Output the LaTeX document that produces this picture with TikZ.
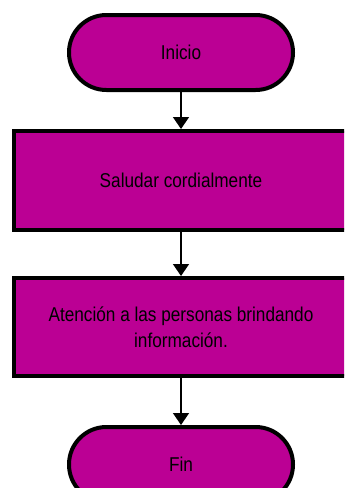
\documentclass[tikz,border=0pt]{standalone}
\usepackage{fontspec}
\setmainfont{Liberation Sans}[FakeStretch=0.86]
\usetikzlibrary{positioning,arrows.meta}
\definecolor{flujo}{RGB}{187,0,148}
\begin{document}
\begin{tikzpicture}[font=\fontsize{10}{13}\selectfont, >={Triangle[width=8pt,length=6pt]},
  blk/.style={draw=black, fill=flujo, line width=2pt, align=center, inner sep=0pt},
  term/.style={blk, minimum width=112pt, minimum height=37.5pt, rounded corners=18.7pt},
  proc/.style={blk, minimum width=167pt},
  flecha/.style={->, line width=0.75pt}
]
  \useasboundingbox (0,0) rectangle (172pt,-244pt);
  \clip (0,0) rectangle (172pt,-244pt);
  \node[term] (ini) at (90.5pt,-26.25pt) {Inicio};
  \node[proc, minimum height=49.5pt, below=18.5pt of ini] (sal) {Saludar cordialmente};
  \node[proc, minimum height=49pt, below=22pt of sal] (ate) {Atención a las personas brindando\\información.};
  \node[term, below=23.5pt of ate] (fin) {Fin};
  \draw[flecha] (ini) -- (sal);
  \draw[flecha] (sal) -- (ate);
  \draw[flecha] (ate) -- (fin);
\end{tikzpicture}
\end{document}
